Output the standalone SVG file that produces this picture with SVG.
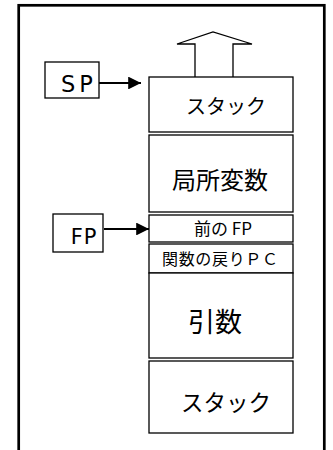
<svg xmlns="http://www.w3.org/2000/svg" width="333" height="450" viewBox="0 0 333 450">
<style>
.box{fill:#fff;stroke:#000;stroke-width:1.3}
.jp{font-family:"Noto Sans CJK JP","DejaVu Sans",sans-serif;fill:#000;text-anchor:middle;dominant-baseline:central}
.lat{font-family:"DejaVu Sans","Liberation Sans",sans-serif;fill:#000;text-anchor:middle;dominant-baseline:central}
.conn{stroke:#000;stroke-width:2;fill:none}
</style>
<defs>
<marker id="ah" viewBox="0 0 10 10" refX="10" refY="5" markerWidth="7" markerHeight="6.4" markerUnits="strokeWidth" orient="auto">
<path d="M0,0 L10,5 L0,10 z" fill="#000"/>
</marker>
</defs>
<rect x="0" y="0" width="333" height="450" fill="#fff"/>
<rect id="frame" x="18.7" y="5.3" width="305.6" height="470" fill="none" stroke="#000" stroke-width="2.7"/>
<g id="growth-arrow">
<path d="M195,77 L195,44 L177,44 L213,32 L252,44 L233,44 L233,77" fill="#fff" stroke="#000" stroke-width="1.3"/>
</g>
<g id="stack-top">
<rect class="box" x="149" y="77" width="144" height="55"/>
<text class="jp" x="226" y="105" font-size="20">スタック</text>
</g>
<g id="locals">
<rect class="box" x="149" y="135" width="144" height="77"/>
<text class="jp" x="220" y="178" font-size="24">局所変数</text>
</g>
<g id="prev-fp">
<rect class="box" x="149" y="215" width="144" height="27"/>
<text class="jp" x="223" y="227" font-size="17">前の FP</text>
</g>
<g id="return-pc">
<rect class="box" x="149" y="244" width="144" height="29"/>
<text class="jp" x="220" y="258" font-size="16" textLength="116" lengthAdjust="spacing">関数の戻りＰＣ</text>
</g>
<g id="args">
<rect class="box" x="149" y="273" width="144" height="85"/>
<text class="jp" x="215" y="320.5" font-size="27">引数</text>
</g>
<g id="stack-bottom">
<rect class="box" x="149" y="361" width="144" height="72"/>
<text class="jp" x="226" y="400.5" font-size="22.5">スタック</text>
</g>
<g id="sp">
<rect class="box" x="45" y="62" width="54" height="36"/>
<text class="lat" x="79" y="84" font-size="22.5" letter-spacing="4">SP</text>
</g>
<g id="fp">
<rect class="box" x="53" y="214" width="50" height="38"/>
<text class="lat" x="84" y="237" font-size="21" letter-spacing="1">FP</text>
</g>
<g id="connectors">
<line class="conn" x1="99" y1="83" x2="141" y2="83" marker-end="url(#ah)"/>
<line class="conn" x1="104" y1="229" x2="149" y2="229" marker-end="url(#ah)"/>
</g>
</svg>
